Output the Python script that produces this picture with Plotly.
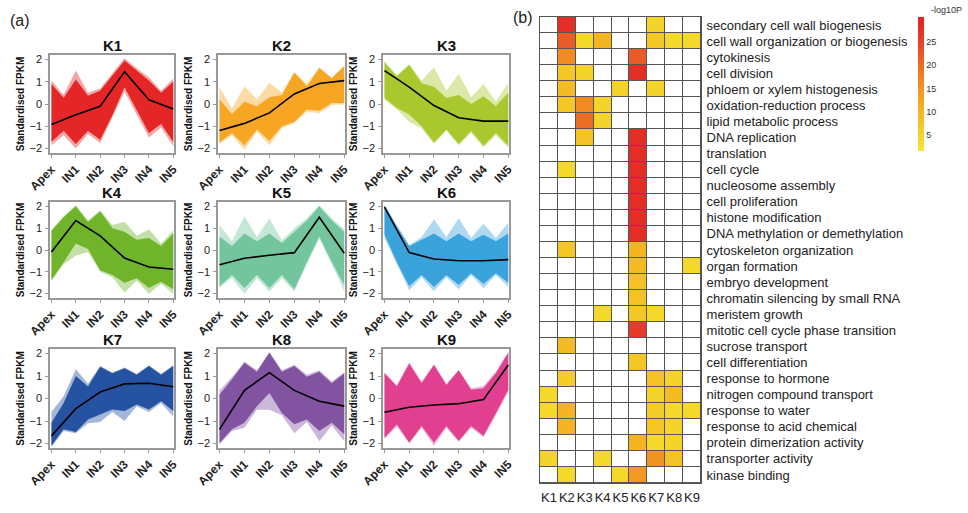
import plotly.graph_objects as go

# ---- data -------------------------------------------------------------
stages = ["Apex", "IN1", "IN2", "IN3", "IN4", "IN5"]
stage_x = [0, 1, 2, 3, 4, 5]
# envelope read at every stage and half way between stages
env_x = [0, 0.5, 1, 1.5, 2, 2.5, 3, 3.5, 4, 4.5, 5]

clusters = ["K1", "K2", "K3", "K4", "K5", "K6", "K7", "K8", "K9"]
colours = ["#E41F1F", "#F6A31C", "#A5C626", "#6BB124", "#6FC39B",
           "#34A0DA", "#1F4C9F", "#7C4D9E", "#DF3A8C"]

# mean profile (black line)
k1_mean = [-0.92, -0.48, -0.10, 1.45, 0.19, -0.22]
k2_mean = [-1.19, -0.87, -0.40, 0.45, 0.92, 1.05]
k3_mean = [1.50, 0.76, -0.07, -0.62, -0.77, -0.77]
k4_mean = [-0.09, 1.35, 0.65, -0.37, -0.78, -0.88]
k5_mean = [-0.68, -0.38, -0.24, -0.12, 1.50, -0.15]
k6_mean = [1.97, -0.12, -0.41, -0.49, -0.49, -0.44]
k7_mean = [-1.66, -0.45, 0.29, 0.65, 0.68, 0.52]
k8_mean = [-1.37, 0.36, 1.15, 0.36, -0.12, -0.34]
k9_mean = [-0.61, -0.39, -0.29, -0.23, -0.05, 1.49]

# dense core of the gene profiles (upper / lower edge)
k1_hi = [0.90, 0.27, 1.10, 0.37, 0.60, 1.30, 1.95, 1.50, 1.05, 0.50, 1.00]
k1_lo = [-1.70, -1.20, -1.80, -1.20, -1.60, -0.50, 0.75, -0.30, -1.30, -0.90, -1.70]
k2_hi = [0.20, -0.45, 0.10, -0.10, 0.30, 0.40, 1.40, 0.80, 1.60, 1.15, 1.70]
k2_lo = [-1.73, -1.30, -1.85, -1.15, -1.65, -1.00, -0.80, -0.25, -0.30, 0.05, 0.05]
k3_hi = [1.87, 1.23, 1.75, 0.93, 0.78, 0.27, 0.40, 0.00, 0.35, -0.10, 0.50]
k3_lo = [0.27, -0.18, -0.47, -1.00, -1.73, -1.14, -1.80, -1.20, -1.88, -1.30, -1.88]
k4_hi = [0.88, 1.50, 2.00, 1.28, 1.76, 1.00, 0.84, 0.47, 0.55, 0.18, 0.76]
k4_lo = [-1.37, -0.56, 0.30, 0.05, -0.93, -1.15, -1.50, -1.30, -1.74, -1.45, -1.80]
k5_hi = [0.62, 0.18, 0.76, 0.40, 0.76, 0.32, 0.84, 1.35, 2.00, 1.35, 0.84]
k5_lo = [-1.66, -1.15, -1.74, -1.15, -1.74, -1.15, -1.80, -0.56, 0.62, -0.56, -1.60]
k6_hi = [2.05, 1.06, 0.18, 0.47, 0.76, 0.40, 0.76, 0.40, 0.70, 0.40, 0.76]
k6_lo = [0.70, -0.56, -1.66, -1.15, -1.70, -1.15, -1.60, -1.07, -1.56, -1.07, -1.50]
k7_hi = [-1.08, -0.20, 1.00, 0.53, 1.41, 1.12, 1.34, 1.05, 1.44, 1.05, 1.44]
k7_lo = [-2.10, -1.37, -1.49, -0.93, -0.71, -0.49, -0.56, -0.27, -0.49, -0.12, -0.56]
k8_hi = [0.17, 0.85, 1.59, 1.19, 2.03, 1.19, 1.44, 0.97, 1.19, 0.68, 1.12]
k8_lo = [-1.98, -1.37, -1.08, -0.34, 0.24, -0.64, -1.15, -0.93, -1.44, -1.08, -1.59]
k9_hi = [1.12, 0.53, 1.56, 0.68, 1.49, 0.60, 1.24, 0.39, 0.46, 1.12, 2.03]
k9_lo = [-1.74, -1.15, -1.96, -1.22, -1.96, -1.22, -1.88, -1.22, -1.66, -0.65, 0.39]

# faint outliers (outer edge)
k1_hi_out = [1.05, 0.40, 1.50, 0.50, 0.70, 1.40, 2.05, 1.60, 1.20, 0.60, 1.15]
k1_lo_out = [-1.85, -1.40, -2.00, -1.35, -1.75, -0.60, 0.55, -0.45, -1.50, -1.05, -1.90]
k2_hi_out = [0.75, -0.20, 0.80, 0.20, 0.95, 0.50, 1.45, 0.90, 1.65, 1.20, 1.72]
k2_lo_out = [-1.80, -1.40, -2.05, -1.25, -1.85, -1.10, -0.85, -0.35, -0.42, -0.05, -0.02]
k3_hi_out = [1.92, 1.30, 1.78, 1.05, 1.65, 0.60, 1.35, 0.30, 0.90, 0.10, 0.95]
k3_lo_out = [0.20, -0.25, -0.80, -1.10, -1.80, -1.20, -1.85, -1.30, -1.95, -1.40, -1.95]
k4_hi_out = [0.92, 1.55, 2.05, 1.35, 1.82, 1.15, 1.30, 0.65, 0.95, 0.30, 0.90]
k4_lo_out = [-1.42, -0.65, -0.25, -0.10, -1.00, -1.25, -1.95, -1.40, -2.00, -1.55, -2.00]
k5_hi_out = [1.15, 0.40, 1.55, 0.60, 1.45, 0.45, 1.00, 1.45, 2.05, 1.45, 0.95]
k5_lo_out = [-1.72, -1.30, -2.00, -1.30, -1.90, -1.30, -1.90, -0.65, 0.50, -0.65, -1.90]
k6_hi_out = [2.08, 1.15, 0.22, 0.60, 1.40, 0.60, 1.45, 0.55, 1.20, 0.55, 1.25]
k6_lo_out = [0.55, -0.65, -1.85, -1.25, -1.90, -1.25, -1.80, -1.15, -1.75, -1.15, -1.70]
k7_hi_out = [-0.60, 0.10, 1.30, 0.65, 1.45, 1.15, 1.38, 1.10, 1.48, 1.10, 1.48]
k7_lo_out = [-2.15, -1.45, -1.55, -1.10, -1.05, -0.60, -1.00, -0.35, -0.60, -0.20, -0.80]
k8_hi_out = [0.35, 0.95, 1.64, 1.25, 2.07, 1.25, 1.50, 1.05, 1.25, 0.75, 1.15]
k8_lo_out = [-2.05, -1.45, -1.30, -0.50, -0.50, -0.75, -1.55, -1.05, -1.90, -1.20, -1.90]
k9_hi_out = [1.15, 0.60, 1.60, 0.75, 1.52, 0.65, 1.28, 0.45, 0.55, 1.20, 2.07]
k9_lo_out = [-1.80, -1.25, -2.00, -1.30, -2.10, -1.30, -1.92, -1.30, -1.72, -0.75, 0.30]

means = [k1_mean, k2_mean, k3_mean, k4_mean, k5_mean, k6_mean, k7_mean, k8_mean, k9_mean]
his = [k1_hi, k2_hi, k3_hi, k4_hi, k5_hi, k6_hi, k7_hi, k8_hi, k9_hi]
los = [k1_lo, k2_lo, k3_lo, k4_lo, k5_lo, k6_lo, k7_lo, k8_lo, k9_lo]
his_out = [k1_hi_out, k2_hi_out, k3_hi_out, k4_hi_out, k5_hi_out,
           k6_hi_out, k7_hi_out, k8_hi_out, k9_hi_out]
los_out = [k1_lo_out, k2_lo_out, k3_lo_out, k4_lo_out, k5_lo_out,
           k6_lo_out, k7_lo_out, k8_lo_out, k9_lo_out]

# GO enrichment (-log10P), None = not enriched
go_terms = [
    "secondary cell wall biogenesis", "cell wall organization or biogenesis",
    "cytokinesis", "cell division", "phloem or xylem histogenesis",
    "oxidation-reduction process", "lipid metabolic process", "DNA replication",
    "translation", "cell cycle", "nucleosome assembly", "cell proliferation",
    "histone modification", "DNA methylation or demethylation",
    "cytoskeleton organization", "organ formation", "embryo development",
    "chromatin silencing by small RNA", "meristem growth",
    "mitotic cell cycle phase transition", "sucrose transport",
    "cell differentiation", "response to hormone", "nitrogen compound transport",
    "response to water", "response to acid chemical",
    "protein dimerization activity", "transporter activity", "kinase binding",
]
N = None
go_logp = [
    [N, 28, N, N, N, N, 5, N, N],
    [N, 22, 4, 10, N, N, 7, 4, 4],
    [N, 16, N, N, N, 22, N, N, N],
    [N, 7, 5, N, N, 28, N, N, N],
    [N, 9, N, N, 5, N, 5, N, N],
    [N, 7, 16, 5, N, N, N, N, N],
    [N, N, 20, 5, N, N, N, N, N],
    [N, N, 8, N, N, 28, N, N, N],
    [N, N, N, N, N, 28, N, N, N],
    [N, 4, N, N, N, 28, N, N, N],
    [N, N, N, N, N, 28, N, N, N],
    [N, N, N, N, N, 28, N, N, N],
    [N, N, N, N, N, 28, N, N, N],
    [N, N, N, N, N, 28, N, N, N],
    [N, 7, N, N, N, 10, N, N, N],
    [N, N, N, N, N, 9, N, N, 4],
    [N, N, N, N, N, 8, N, N, N],
    [N, N, N, N, N, 8, N, N, N],
    [N, N, N, 4, N, 7, 4, N, N],
    [N, N, N, N, N, 26, N, N, N],
    [N, 9, N, N, N, N, N, N, N],
    [N, N, N, N, N, 7, N, N, N],
    [N, 6, N, N, N, N, 8, 5, N],
    [4, N, N, N, N, N, 5, 9, N],
    [4, 10, N, N, N, N, 6, 4, 4],
    [N, 10, N, N, N, N, 7, 5, N],
    [N, N, N, N, N, 10, 4, 5, N],
    [5, N, N, 4, N, N, 15, 8, N],
    [N, 4, N, N, 4, 14, N, N, N],
]

# ---- layout helpers ---------------------------------------------------
W, H = 968, 513
FONT = "Liberation Sans, Arial, sans-serif"
col_px = [(50, 174), (218, 345), (383, 509)]
row_px = [(55, 153), (202, 298), (349, 448)]


def hexa(c, a):
    c = c.lstrip("#")
    return "rgba(%d,%d,%d,%.2f)" % (int(c[0:2], 16), int(c[2:4], 16), int(c[4:6], 16), a)


fig = go.Figure()
layout = dict(width=W, height=H,
              margin=dict(l=0, r=0, t=0, b=0, pad=0, autoexpand=False),
              paper_bgcolor="white", plot_bgcolor="white", showlegend=False,
              font=dict(family=FONT, color="#222"))
annotations = []

for i, name in enumerate(clusters):
    r, c = divmod(i, 3)
    n = i + 1
    xa = "x" if n == 1 else "x%d" % n
    ya = "y" if n == 1 else "y%d" % n
    poly_x = env_x + env_x[::-1]

    fig.add_trace(go.Scatter(x=poly_x, y=his_out[i] + los_out[i][::-1], fill="toself",
                             fillcolor=hexa(colours[i], 0.4), line=dict(width=0),
                             mode="lines", hoverinfo="skip", xaxis=xa, yaxis=ya))
    fig.add_trace(go.Scatter(x=poly_x, y=his[i] + los[i][::-1], fill="toself",
                             fillcolor=hexa(colours[i], 0.95), line=dict(width=0),
                             mode="lines", hoverinfo="skip", xaxis=xa, yaxis=ya))
    fig.add_trace(go.Scatter(x=stage_x, y=means[i], mode="lines",
                             line=dict(color="black", width=1.6),
                             xaxis=xa, yaxis=ya))

    x0, x1 = col_px[c]
    y0, y1 = row_px[r]
    axis_common = dict(showline=True, mirror=True, linecolor="#999", linewidth=1.5,
                       showgrid=False, zeroline=False, ticks="outside",
                       ticklen=3, tickcolor="#999")
    layout["xaxis" if n == 1 else "xaxis%d" % n] = dict(
        axis_common, domain=[x0 / W, x1 / W], anchor=ya, range=[-0.06, 5.03],
        tickvals=stage_x, ticktext=stages, tickangle=-45,
        tickfont=dict(size=12, family=FONT, color="#222", weight="bold"))
    layout["yaxis" if n == 1 else "yaxis%d" % n] = dict(
        axis_common, domain=[1 - y1 / H, 1 - y0 / H], anchor=xa, range=[-2.2, 2.2],
        tickvals=[-2, -1, 0, 1, 2], ticklabelstandoff=1,
        tickfont=dict(size=11, family=FONT, color="#222"),
        title=dict(text="Standardised FPKM", standoff=3,
                   font=dict(size=10, family=FONT, color="#111", weight="bold")))
    annotations.append(dict(text="<b>%s</b>" % name, x=(x0 + x1) / 2 / W,
                            y=1 - (y0 - 10) / H, xref="paper", yref="paper",
                            showarrow=False, font=dict(size=15, family=FONT, color="#111"),
                            xanchor="center", yanchor="middle"))

# ---- heatmap ----------------------------------------------------------
hx, hy = "x10", "y10"
back = [[0] * len(clusters) for _ in go_terms]
fig.add_trace(go.Heatmap(z=back, x=clusters, y=go_terms, xaxis=hx, yaxis=hy,
                         colorscale=[[0, "#555"], [1, "#555"]], showscale=False,
                         hoverinfo="skip"))
fig.add_trace(go.Heatmap(z=back, x=clusters, y=go_terms, xaxis=hx, yaxis=hy,
                         colorscale=[[0, "white"], [1, "white"]], showscale=False,
                         xgap=1, ygap=1, hoverinfo="skip"))
fig.add_trace(go.Heatmap(
    z=go_logp, x=clusters, y=go_terms, xaxis=hx, yaxis=hy, xgap=1, ygap=1,
    zmin=1.5, zmax=30.4,
    colorscale=[[0, "#F3E82E"], [0.3, "#F5B423"], [0.55, "#EF8322"],
                [0.8, "#E6462A"], [1, "#E21E25"]],
    colorbar=dict(thickness=6, len=134 / H, lenmode="fraction", y=1 - 17 / H,
                  yanchor="top", x=918 / W, xanchor="left", outlinewidth=0,
                  xpad=0, ypad=0,
                  tickvals=[5, 10, 15, 20, 25], ticks="",
                  tickfont=dict(size=9, family=FONT, color="#333"))))

layout["xaxis10"] = dict(domain=[540 / W, 701 / W], anchor=hy, showgrid=False,
                         zeroline=False, showline=True, mirror=True, linecolor="#555",
                         linewidth=1, ticks="", ticklabelstandoff=2, tickangle=0,
                         tickmode="array", tickvals=clusters, ticktext=clusters,
                         tickfont=dict(size=13, family=FONT, color="#222"))
layout["yaxis10"] = dict(domain=[1 - 483 / H, 1 - 17 / H], anchor=hx, showgrid=False,
                         zeroline=False, showline=True, mirror=True, linecolor="#555",
                         linewidth=1, ticks="", side="right", autorange="reversed",
                         ticklabelstandoff=2, tickmode="array",
                         tickvals=go_terms, ticktext=go_terms,
                         tickfont=dict(size=13, family=FONT, color="#222"))

annotations.append(dict(text="-log10P", x=929 / W, y=1 - 10 / H, xref="paper",
                        yref="paper", showarrow=False, xanchor="left", yanchor="middle",
                        font=dict(size=9, family=FONT, color="#333")))
annotations.append(dict(text="(a)", x=8 / W, y=1 - 20 / H, xref="paper", yref="paper",
                        showarrow=False, xanchor="left", yanchor="middle",
                        font=dict(size=16, family=FONT, color="#222")))
annotations.append(dict(text="(b)", x=511 / W, y=1 - 17 / H, xref="paper", yref="paper",
                        showarrow=False, xanchor="left", yanchor="middle",
                        font=dict(size=16, family=FONT, color="#222")))
layout["annotations"] = annotations

fig.update_layout(**layout)
fig.write_html("out.html", config={"displayModeBar": False},
               post_script="document.body.style.margin = '0px';")
